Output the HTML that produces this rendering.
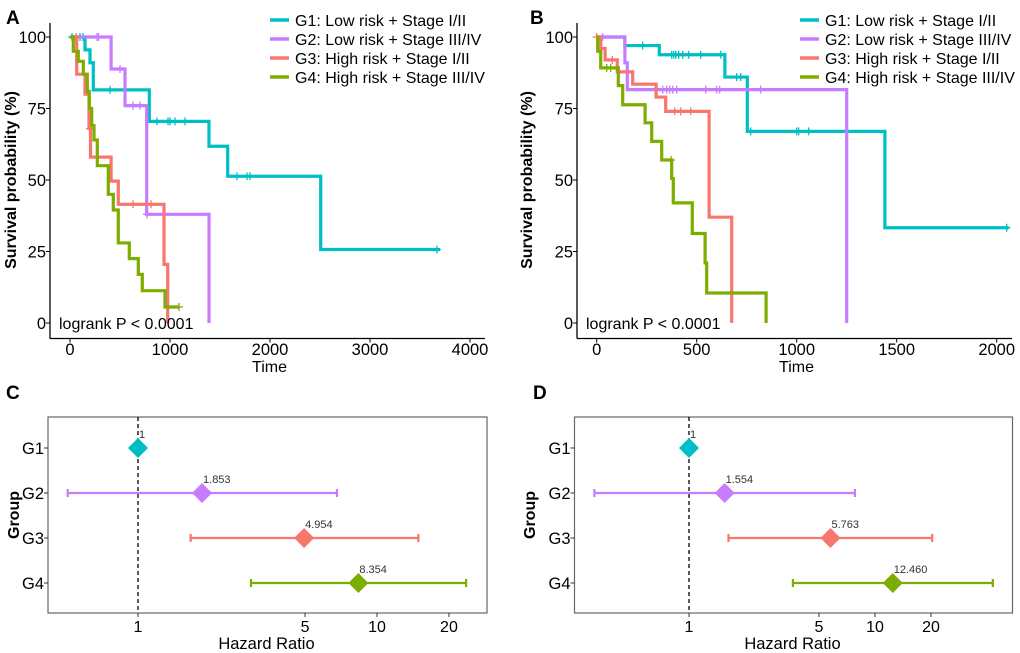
<!DOCTYPE html>
<html><head><meta charset="utf-8"><style>
html,body{margin:0;padding:0;background:#fff;}
svg{display:block;font-family:"Liberation Sans",Arial,sans-serif;}
</style></head><body>
<svg id="fig" width="1020" height="653" viewBox="0 0 1020 653" xmlns="http://www.w3.org/2000/svg"></svg>
<script>
const NS='http://www.w3.org/2000/svg';
const colors=['#00BFC4','#C77CFF','#F8766D','#7CAE00'];
const legendLabels=['G1: Low risk + Stage I/II','G2: Low risk + Stage III/IV','G3: High risk + Stage I/II','G4: High risk + Stage III/IV'];
// Panel A KM data: step times / survival values, censor times, end time
const aTimes=[[150,200,233,793,1390,1577,2507],[411,550,767,1390],[67,150,190,205,411,483,940,977],[33,83,133,173,193,217,240,273,383,433,483,593,683,723,950]];
const aSurv=[[95.5,91,81.5,70.5,61.8,51.3,25.7],[88.8,76,38,0],[87,80,68,58,49.6,41.5,20.5,0],[95,91.5,87,81,75,69,64,55,45,39.5,28,22.5,17,11.3,5.6]];
const aCens=[[20,100,130,400,550,870,980,1000,1050,1150,1670,1770,1800,3670],[270,285,500,630,700,770],[60,200,630,810],[1090]];
const aEnd=[3700,1390,977,1090];
// Panel B
const bTimes=[[141,313,641,753,1441],[141,153,1250],[20,42,103,180,297,345,562,675],[5,20,108,130,242,275,325,375,383,478,542,550,847]];
const bSurv=[[97,93.8,86,67,33.3],[91,81.6,0],[96,92,87.8,83.5,79,74,37,0],[95,89.2,83,76.3,70,63.5,57,50.5,42,31.3,21,10.5,0]];
const bCens=[[230,375,385,395,410,430,460,520,620,700,720,770,1000,1010,1060,2050],[30,330,350,365,380,400,545,600,615,820],[0,78,390,420,470],[50,70,372]];
const bEnd=[2060,1250,675,847];
// Forest data
const groups=['G1','G2','G3','G4'];
const cHR=[1,1.853,4.954,8.354];
const cLo=[1,0.508,1.66,2.97];
const cHi=[1,6.8,14.9,23.6];
const cLab=['1','1.853','4.954','8.354'];
const dHR=[1,1.554,5.763,12.46];
const dLo=[1,0.31,1.63,3.62];
const dHi=[1,7.8,20.3,43];
const dLab=['1','1.554','5.763','12.460'];
const kmTicksY=[0,25,50,75,100];
const aTicksX=[0,1000,2000,3000,4000];
const bTicksX=[0,500,1000,1500,2000];
const hrTicks=[1,5,10,20];

const svg=document.getElementById('fig');
function el(tag,attrs,parent,text){const e=document.createElementNS(NS,tag);for(const k in attrs)e.setAttribute(k,attrs[k]);if(text!==undefined)e.textContent=text;(parent||svg).appendChild(e);return e;}

function km(o){
  const g=el('g',{});
  
  
  const X=t=>o.x0+t*o.sx, Y=s=>323-s*2.86;
  const t1=el('text',{x:o.lx,y:24,'font-size':19,'font-weight':'bold'},g,o.letter);
  
  el('line',{x1:o.ax,y1:23,x2:o.ax,y2:338.5,stroke:'#000','stroke-width':1.3},g);
  el('line',{x1:o.ax,y1:338.5,x2:o.axr,y2:338.5,stroke:'#000','stroke-width':1.3},g);
  kmTicksY.forEach(v=>{el('line',{x1:o.ax-4,x2:o.ax,y1:Y(v),y2:Y(v),stroke:'#000'},g);
    const t=el('text',{x:o.ax-4,y:Y(v)+6,'font-size':16.5,'text-anchor':'end'},g,String(v));});
  o.ticksX.forEach(v=>{el('line',{x1:X(v),x2:X(v),y1:338.5,y2:342.5,stroke:'#000'},g);
    const t=el('text',{x:X(v),y:355,'font-size':16.5,'text-anchor':'middle'},g,String(v));});
  const xt=el('text',{x:(o.ax+o.axr)/2+2,y:372,'font-size':16,'text-anchor':'middle'},g,'Time');
  
  const yt=el('text',{x:0,y:0,'font-size':16,'font-weight':'bold','text-anchor':'middle',transform:`translate(${o.ytx},180) rotate(-90)`},g,'Survival probability (%)');
  
  for(let i=0;i<4;i++){
    let d=`M${X(0)},${Y(100)}`;
    o.times[i].forEach((t,j)=>{d+=`H${X(t)}V${Y(o.surv[i][j])}`;});
    d+=`H${X(o.end[i])}`;
    const p=el('path',{d,fill:'none',stroke:colors[i],'stroke-width':3.2},g);
    
    o.cens[i].forEach(t=>{let s=100;o.times[i].forEach((tt,j)=>{if(tt<=t)s=o.surv[i][j];});
      const c=el('path',{d:`M${X(t)-4},${Y(s)}h8M${X(t)},${Y(s)-4}v8`,stroke:colors[i],'stroke-width':1.3},g);
      });
  }
  const lr=el('text',{x:o.ax+9,y:329,'font-size':16},g,'logrank P < 0.0001');
  
  for(let i=0;i<4;i++){const y=20+i*19;
    const le=el('g',{},g);
    el('line',{x1:o.legx,x2:o.legx+19,y1:y,y2:y,stroke:colors[i],'stroke-width':3.5},le);
    el('text',{x:o.legx+25,y:y+6,'font-size':16},le,legendLabels[i]);}
}
km({name:'km-panel-a',letter:'A',lx:6,x0:70,sx:0.1,ax:50,axr:485,ytx:16,ticksX:aTicksX,times:aTimes,surv:aSurv,cens:aCens,end:aEnd,legx:270});
km({name:'km-panel-b',letter:'B',lx:530,x0:596.7,sx:0.2,ax:577,axr:1012,ytx:532,ticksX:bTicksX,times:bTimes,surv:bSurv,cens:bCens,end:bEnd,legx:800});

function forest(o){
  const g=el('g',{});
  
  
  const X=v=>o.x1+Math.log10(v)*o.dec;
  const Yg=i=>448+i*45;
  const t1=el('text',{x:o.lx,y:399,'font-size':19,'font-weight':'bold'},g,o.letter);
  
  el('rect',{x:o.bx,y:417,width:o.bw,height:196,fill:'none',stroke:'#666','stroke-width':1.2},g);
  el('line',{x1:X(1),x2:X(1),y1:417,y2:613,stroke:'#000','stroke-width':1.3,'stroke-dasharray':'4,3'},g);
  hrTicks.forEach(v=>{el('line',{x1:X(v),x2:X(v),y1:613,y2:617,stroke:'#333'},g);
    const t=el('text',{x:X(v),y:632,'font-size':16,'text-anchor':'middle'},g,String(v));});
  const xt=el('text',{x:o.bx+o.bw/2-1,y:649,'font-size':16.5,'text-anchor':'middle'},g,'Hazard Ratio');
  
  const yt=el('text',{x:0,y:0,'font-size':16,'font-weight':'bold','text-anchor':'middle',transform:`translate(${o.ytx},515) rotate(-90)`},g,'Group');
  
  groups.forEach((gn,i)=>{const y=Yg(i);
    el('line',{x1:o.bx-4,x2:o.bx,y1:y,y2:y,stroke:'#333'},g);
    const t=el('text',{x:o.bx-4,y:y+6,'font-size':16.5,'text-anchor':'end'},g,gn);
    const r=el('g',{},g);
    if(o.hi[i]!==o.lo[i]){
      el('path',{d:`M${X(o.lo[i])},${y}H${X(o.hi[i])}M${X(o.lo[i])},${y-4}v8M${X(o.hi[i])},${y-4}v8`,stroke:colors[i],'stroke-width':2.2,fill:'none'},r);}
    const cx=X(o.hr[i]);
    el('path',{d:`M${cx},${y-10}L${cx+10},${y}L${cx},${y+10}L${cx-10},${y}Z`,fill:colors[i]},r);
    el('text',{x:cx+1,y:y-10,'font-size':11,fill:'#333'},r,o.lab[i]);
  });
}
forest({name:'forest-panel-c',letter:'C',lx:6,bx:48,bw:439,x1:138,dec:239,ytx:19,hr:cHR,lo:cLo,hi:cHi,lab:cLab});
forest({name:'forest-panel-d',letter:'D',lx:533,bx:574.5,bw:438,x1:689,dec:186,ytx:535,hr:dHR,lo:dLo,hi:dHi,lab:dLab});
</script>
</body></html>
